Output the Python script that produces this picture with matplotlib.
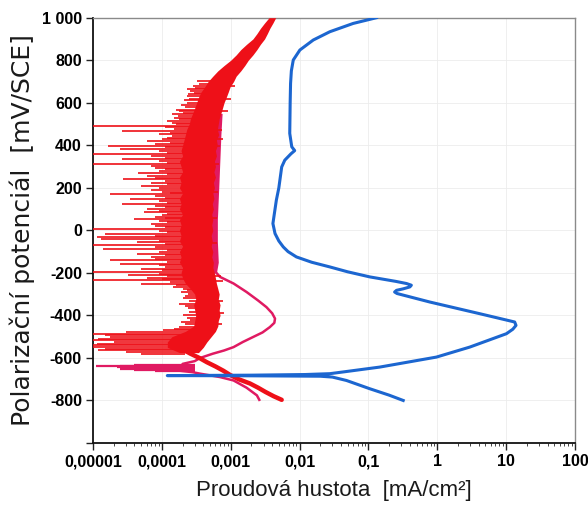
import numpy as np
import matplotlib
matplotlib.use("Agg")
import matplotlib.pyplot as plt
from matplotlib.ticker import FixedLocator, LogLocator, NullFormatter
from matplotlib import font_manager

# ---------------- data ----------------
# blue curve: potential (mV) / current density (mA/cm2)
blue_E = [1000, 973, 934, 895, 848, 801, 750, 691, 600, 456, 393, 375, 360, 330, 298,
          200, 142, 32, -15, -50, -78, -100, -125, -150, -172, -195, -219, -240, -250,
          -258, -266, -275, -282, -290, -297, -337, -392, -431, -447, -465, -486, -549,
          -596, -643, -665, -674, -678, -681, -683, -684, -686, -690, -706, -745, -775, -800]
blue_i = [0.131, 0.06, 0.0275, 0.0158, 0.0101, 0.0081, 0.0076, 0.0074, 0.0073, 0.0072,
          0.0077, 0.0085, 0.0075, 0.0061, 0.0055, 0.005, 0.0046, 0.0041, 0.0044, 0.005,
          0.0058, 0.0068, 0.009, 0.015, 0.0275, 0.05, 0.105, 0.25, 0.357, 0.42, 0.40,
          0.32, 0.256, 0.24, 0.26, 0.778, 4.14, 13.3, 13.9, 12.5, 10.1, 2.96, 0.97,
          0.146, 0.045, 0.0275, 0.012, 0.002, 0.00012, 0.002, 0.02, 0.03, 0.048, 0.105,
          0.2, 0.32]

# red curve: dense noisy band (left / right envelope) + spikes + cathodic tail
red_env_E = [1000, 975, 950, 925, 900, 875, 850, 825, 800, 775, 750, 725, 700, 675, 650,
             625, 600, 575, 550, 525, 500, 475, 450, 425, 400, 375, 350, 325, 300, 275,
             250, 225, 200, 175, 150, 125, 100, 75, 50, 25, 0, -25, -50, -75, -100, -125,
             -150, -175, -200, -225, -250, -275, -300, -325, -350, -375, -400, -425, -450,
             -475, -500, -525, -550, -575]
red_env_left = [0.0036, 0.0031, 0.0027, 0.0024, 0.0021, 0.0017, 0.0014, 0.0012, 0.0010,
                0.0008, 0.00065, 0.00055, 0.00047, 0.00042, 0.00037, 0.00034, 0.00032,
                0.0003, 0.00028, 0.00026, 0.00025, 0.00023, 0.00022, 0.00021, 0.0002,
                0.00019, 0.0002, 0.00018, 0.00019, 0.0002, 0.00018, 0.00019, 0.00018,
                0.0002, 0.00018, 0.00019, 0.00018, 0.0002, 0.00018, 0.00019, 0.00018,
                0.00019, 0.00018, 0.0002, 0.00018, 0.00019, 0.00018, 0.0002, 0.00019,
                0.0002, 0.00022, 0.00026, 0.0003, 0.00031, 0.00029, 0.0003, 0.00031,
                0.0003, 0.00029, 0.00022, 0.00014, 0.00012, 0.00012, 0.00018]
red_env_right = [0.0045, 0.0041, 0.0037, 0.0034, 0.0031, 0.0027, 0.0024, 0.0021, 0.0018,
                 0.0016, 0.0014, 0.0012, 0.0011, 0.00098, 0.00092, 0.00086, 0.0008,
                 0.00076, 0.00072, 0.00068, 0.00066, 0.00064, 0.00067, 0.00062, 0.00064,
                 0.0006, 0.00062, 0.00058, 0.0006, 0.00057, 0.0006, 0.00056, 0.00058,
                 0.00055, 0.00057, 0.00054, 0.00056, 0.00053, 0.00055, 0.00053, 0.00055,
                 0.00052, 0.00054, 0.00052, 0.00055, 0.00053, 0.00056, 0.00055, 0.00058,
                 0.0006, 0.00062, 0.00065, 0.00068, 0.00066, 0.0007, 0.00068, 0.0007,
                 0.00066, 0.00065, 0.0006, 0.00052, 0.00045, 0.0004, 0.00034]
# long spikes to the left (potential, leftmost current)
red_spike_E = [663, 631, 568, 545, 514, 491, 468, 436, 420, 397, 382, 358, 334, 311, 295,
               272, 255, 240, 209, 190, 170, 146, 123, 100, 84, 65, 52, 30, 5, -18, -31,
               -41, -55, -70, -86, -109, -125, -141, -156, -180, -196, -211, -223, -235,
               -251, -266, -290, -320, -345, -400, -430, -470, -478, -486, -494, -502,
               -510, -517, -525, -533, -541, -549, -557, -564, -572, -580]
red_spike_i = [2.3e-4, 2.3e-4, 1.6e-4, 1.4e-4, 1.2e-4, 1.0e-5, 2.6e-5, 1.2e-4, 6e-5,
               1.65e-5, 2.5e-5, 1.0e-5, 2.6e-5, 1.0e-5, 8e-5, 4.5e-5, 6e-5, 2.7e-5, 5e-5,
               7e-5, 1.76e-5, 3.5e-5, 2.6e-5, 6e-5, 5.5e-5, 8e-5, 4e-5, 7e-5, 1.0e-5,
               1.5e-5, 1.13e-5, 1.3e-5, 4.3e-5, 1.0e-5, 1.4e-5, 4.3e-5, 7e-5, 1.76e-5,
               2.5e-5, 5e-5, 1.0e-5, 3.2e-5, 6e-5, 1.0e-5, 5e-5, 1.45e-4, 1.9e-4, 2.0e-4,
               1.8e-4, 2.0e-4, 1.9e-4, 1.03e-4, 3e-5, 1.0e-5, 1.5e-5, 1.76e-5, 1.2e-5,
               1.0e-5, 2e-5, 1.13e-5, 1.0e-5, 1.0e-5, 1.5e-5, 1.2e-5, 3e-5, 5e-5]
# shorter spikes filling the ragged left side of the band
red_short_E = [700, 690, 680, 670, 655, 645, 640, 620, 612, 600, 590, 580, 560, 552, 538,
               530, 522, 505, 498, 484, 476, 460, 452, 444, 428, 412, 405, 390, 375, 366,
               350, 342, 326, 318, 303, 287, 280, 264, 248, 232, 224, 216, 200, 182, 176,
               160, 153, 138, 130, 115, 108, 92, 76, 70, 58, 44, 37, 22, 14, -3, -10, -25,
               -48, -62, -78, -94, -101, -117, -133, -148, -164, -172, -188, -203, -217,
               -229, -243, -258, -274, -282, -300, -310, -333, -356, -365, -385, -410,
               -420, -440, -455, -462]
red_short_i = [3.2e-4, 3.5e-4, 2.8e-4, 3e-4, 2.6e-4, 2.9e-4, 2.4e-4, 2.5e-4, 2.1e-4,
               2.3e-4, 1.9e-4, 2.2e-4, 1.8e-4, 2e-4, 1.7e-4, 1.5e-4, 1.8e-4, 1.4e-4,
               1.6e-4, 1.1e-4, 1.5e-4, 1.3e-4, 9e-5, 1.4e-4, 1.0e-4, 1.3e-4, 8e-5, 1.1e-4,
               9e-5, 1.2e-4, 7e-5, 1.1e-4, 9e-5, 1.2e-4, 7e-5, 1.1e-4, 9e-5, 1.2e-4, 8e-5,
               1.1e-4, 7e-5, 1.2e-4, 9e-5, 1.0e-4, 1.3e-4, 8e-5, 1.1e-4, 9e-5, 1.2e-4,
               8e-5, 1.1e-4, 9e-5, 1.2e-4, 1.0e-4, 1.1e-4, 9e-5, 1.2e-4, 8e-5, 1.1e-4,
               9e-5, 1.2e-4, 8e-5, 9e-5, 1.1e-4, 8e-5, 1.2e-4, 9e-5, 1.1e-4, 8e-5, 1.2e-4,
               9e-5, 1.1e-4, 1.0e-4, 9e-5, 1.2e-4, 1.0e-4, 1.3e-4, 1.6e-4, 2.0e-4, 2.3e-4,
               2.4e-4, 2.2e-4, 2.5e-4, 2.2e-4, 2.4e-4, 2.5e-4, 2.3e-4, 2.6e-4, 2.2e-4,
               1.8e-4, 1.5e-4]
# short protrusions to the right of the band
red_right_E = [680, 620, 560, 470, 430, 395, 310, 180, 60, -60, -215, -240, -330, -390, -440]
red_right_i = [1.15e-3, 1.0e-3, 9e-4, 7.5e-4, 7.8e-4, 7e-4, 6.8e-4, 6.6e-4, 6.4e-4, 6.3e-4,
               7.2e-4, 7.6e-4, 7.8e-4, 8e-4, 7.4e-4]
red_tail_E = [-560, -580, -600, -620, -640, -660, -680, -700, -720, -740, -760, -780, -797]
red_tail_i = [0.0002, 0.00026, 0.00035, 0.00045, 0.0006, 0.00078, 0.00098, 0.0013,
              0.0019, 0.0025, 0.0032, 0.0042, 0.0055]

# pink curve
pink_env_E = [550, 450, 350, 250, 150, 50, -50, -150, -200]
pink_env_left = [0.0003, 0.0003, 0.0003, 0.0003, 0.0003, 0.0003, 0.0003, 0.0003, 0.0003]
pink_env_right = [0.00075, 0.00072, 0.0007, 0.00068, 0.00066, 0.00064, 0.00064, 0.00066,
                  0.00062]
pink_E = [-200, -219, -250, -290, -330, -361, -390, -415, -435, -455, -480, -502, -525,
          -549, -565, -580, -600, -615, -628, -640, -652, -660, -667, -674, -690, -706,
          -740, -776, -797]
pink_i = [0.00062, 0.0007, 0.0011, 0.0017, 0.0025, 0.0033, 0.004, 0.0044, 0.0043, 0.0037,
          0.0029, 0.0021, 0.0015, 0.0011, 0.0008, 0.00055, 0.00036, 0.0003, 0.0002,
          0.00022, 0.0002, 0.00018, 0.00028, 0.00036, 0.0007, 0.0011, 0.0017, 0.0024,
          0.0026]
pink_spike_E = [-632, -636, -640, -644, -648, -652, -656, -660]
pink_spike_i = [4e-5, 2.5e-5, 1.1e-5, 2.2e-5, 3e-5, 2.5e-5, 4e-5, 8e-5]

x_ticks = [1e-5, 1e-4, 1e-3, 1e-2, 1e-1, 1, 10, 100]
x_labels = ["0,00001", "0,0001", "0,001", "0,01", "0,1", "1", "10", "100"]
y_ticks = [-1000, -800, -600, -400, -200, 0, 200, 400, 600, 800, 1000]
y_labels = ["", "-800", "-600", "-400", "-200", "0", "200", "400", "600", "800", "1 000"]

RED = "#ee1018"
PINK = "#e01a62"
BLUE = "#1c66d0"

# ---------------- figure ----------------
fig = plt.figure(figsize=(5.88, 5.09), dpi=100)
ax = fig.add_axes([93 / 588, 1 - 443 / 509, (575 - 93) / 588, (443 - 17.7) / 509])
ax.set_xscale("log")
ax.set_xlim(1e-5, 100)
ax.set_ylim(-1000, 1000)

# pink (behind)
ax.fill_betweenx(pink_env_E, pink_env_left, pink_env_right, color=PINK, lw=0, zorder=2)
ax.hlines(pink_spike_E, pink_spike_i, 3e-4, color=PINK, lw=1.6, zorder=2)
ax.plot(pink_i, pink_E, color=PINK, lw=1.8, zorder=2.5)

# red
ax.fill_betweenx(red_env_E, red_env_left, red_env_right, color=RED, lw=0, zorder=3)
env_E_up = red_env_E[::-1]
left_up = red_env_left[::-1]
right_up = red_env_right[::-1]
ax.hlines(red_spike_E, red_spike_i, np.interp(red_spike_E, env_E_up, left_up) * 1.2,
          color=RED, lw=1.2, zorder=3)
ax.hlines(red_short_E, red_short_i, np.interp(red_short_E, env_E_up, left_up) * 1.2,
          color=RED, lw=1.2, zorder=3)
ax.hlines(red_right_E, np.interp(red_right_E, env_E_up, right_up) * 0.85, red_right_i,
          color=RED, lw=1.2, zorder=3)
ax.plot(red_tail_i, red_tail_E, color=RED, lw=3.2, zorder=3, solid_capstyle="round")

# blue
ax.plot(blue_i, blue_E, color=BLUE, lw=2.2, zorder=4, solid_joinstyle="round")

# axes styling
ax.grid(True, which="major", color="#ececec", lw=0.6, zorder=0)
for s in ["top", "right"]:
    ax.spines[s].set_color("#8a8a8a")
    ax.spines[s].set_linewidth(1.0)
for s in ["left", "bottom"]:
    ax.spines[s].set_color("#111111")
    ax.spines[s].set_linewidth(1.3)

tick_font = font_manager.FontProperties(family=["Liberation Sans Narrow", "Liberation Sans"],
                                        weight="bold", size=11.5)
ax.xaxis.set_major_locator(FixedLocator(x_ticks))
ax.set_xticklabels(x_labels, fontproperties=tick_font)
ax.xaxis.set_minor_locator(LogLocator(base=10, subs=np.arange(2, 10), numticks=20))
ax.xaxis.set_minor_formatter(NullFormatter())
ax.yaxis.set_major_locator(FixedLocator(y_ticks))
ax.set_yticklabels(y_labels, fontproperties=tick_font)
ax.tick_params(axis="both", which="major", direction="out", length=5, width=1.0,
               color="#222222", pad=3)
ax.tick_params(axis="x", which="minor", direction="out", length=2.5, width=0.7,
               color="#444444")
ax.tick_params(top=False, right=False, which="both")

ax.set_xlabel("Proudová hustota  [mA/cm²]", family="Liberation Sans", fontsize=16,
              color="#1a1a1a", labelpad=8)
ax.set_ylabel("Polarizační potenciál  [mV/SCE]", family="DejaVu Sans", fontsize=18,
              color="#1a1a1a", labelpad=5)

fig.savefig("out.png", dpi=100, facecolor="white")
